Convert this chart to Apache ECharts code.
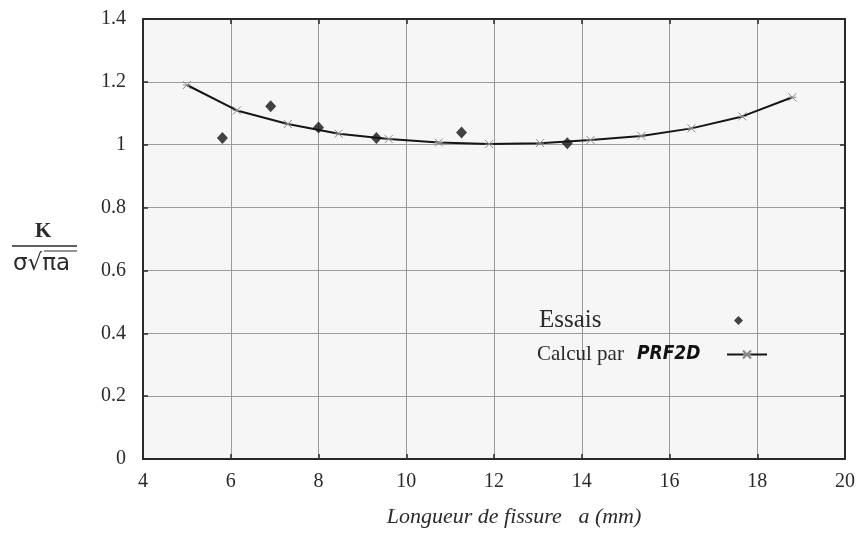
<!DOCTYPE html>
<html>
<head>
<meta charset="utf-8">
<script src="https://cdn.jsdelivr.net/npm/echarts@6/dist/echarts.min.js"></script>
<style>
  html, body { margin: 0; padding: 0; background: #fff; }
  #chart { width: 861px; height: 533px; }
</style>
</head>
<body>
<div id="chart"></div>
<script>
// valeurs
const calcX = [5.0, 6.14, 7.3, 8.46, 9.6, 10.74, 11.89, 13.05, 14.2, 15.36, 16.5, 17.66, 18.8];
const calcY = [1.19, 1.109, 1.066, 1.035, 1.018, 1.007, 1.002, 1.005, 1.015, 1.028, 1.052, 1.09, 1.151];
const essaisX = [5.81, 6.91, 8.0, 9.32, 11.26, 13.67];
const essaisY = [1.021, 1.122, 1.055, 1.021, 1.039, 1.005];
const xTicks = { min: 4, max: 20, interval: 2 };
const yTicks = { min: 0, max: 1.4, interval: 0.2 };

const serif = "'Liberation Serif', 'DejaVu Serif', serif";
const dark = '#2a2a2a';
const star = 'path://M-4,-3L4,3M-4,3L4,-3M-4,0L4,0';

const calcData = calcX.map((x, i) => [x, calcY[i]]);
const essaisData = essaisX.map((x, i) => [x, essaisY[i]]);

const axisCommon = {
  type: 'value',
  axisLine: { show: true, onZero: false, lineStyle: { color: dark, width: 2 } },
  axisTick: { show: true, inside: true, length: 5, lineStyle: { color: dark, width: 1.5 } },
};

const option = {
  animation: false,
  backgroundColor: '#fff',
  grid: {
    left: 143, right: 16, top: 19, bottom: 74,
    show: true, backgroundColor: '#f6f6f6', borderWidth: 0
  },
  legend: [
    {
      data: ['Essais'],
      left: 539, top: 308, padding: 0,
      align: 'right',
      itemWidth: 9, itemHeight: 9,
      formatter: '{a|Essais}',
      textStyle: {
        rich: { a: { fontFamily: serif, fontSize: 25, color: dark, width: 190, lineHeight: 24, align: 'left' } }
      }
    },
    {
      data: ['Calcul par PRF2D'],
      left: 537, top: 344, padding: 0,
      align: 'right',
      itemWidth: 40, itemHeight: 10,
      formatter: '{a|Calcul par }{b|PRF2D}',
      textStyle: {
        rich: {
          a: { fontFamily: serif, fontSize: 21, color: dark, width: 100, lineHeight: 22, align: 'left' },
          b: { fontFamily: "'DejaVu Sans Condensed', 'DejaVu Sans', sans-serif", fontSize: 19,
               fontWeight: 'bold', fontStyle: 'italic', color: '#111', width: 85, lineHeight: 22, align: 'left' }
        }
      }
    }
  ],
  xAxis: [
    Object.assign({}, axisCommon, xTicks, {
      position: 'bottom',
      name: 'Longueur de fissure   a (mm)',
      nameLocation: 'middle',
      nameGap: 47,
      nameTextStyle: { fontFamily: serif, fontSize: 22, fontStyle: 'italic', color: dark, padding: [0, 0, 0, 40] },
      axisLabel: { margin: 13, fontFamily: serif, fontSize: 20, color: dark },
      splitLine: { show: true, lineStyle: { color: '#9a9a9a', width: 1 } }
    }),
    Object.assign({}, axisCommon, xTicks, {
      position: 'top',
      axisLabel: { show: false },
      splitLine: { show: false }
    })
  ],
  yAxis: [
    Object.assign({}, axisCommon, yTicks, {
      position: 'left',
      axisLabel: { margin: 17, fontFamily: serif, fontSize: 20, color: dark },
      splitLine: { show: true, lineStyle: { color: '#9a9a9a', width: 1 } }
    }),
    Object.assign({}, axisCommon, yTicks, {
      position: 'right',
      axisLabel: { show: false },
      splitLine: { show: false }
    })
  ],
  graphic: [
    {
      type: 'text', left: 35, top: 221,
      style: { text: 'K', fontFamily: serif, fontSize: 21, fontWeight: 'bold', fill: dark }
    },
    {
      type: 'line', shape: { x1: 12, y1: 246, x2: 77, y2: 246 },
      style: { stroke: dark, lineWidth: 1.5 }
    },
    {
      type: 'text', left: 13, top: 253,
      style: { text: 'σ√πa', fontFamily: "'DejaVu Sans', sans-serif", fontSize: 23, fill: dark }
    },
    {
      type: 'line', shape: { x1: 44, y1: 251, x2: 77, y2: 251 },
      style: { stroke: dark, lineWidth: 1.2 }
    }
  ],
  series: [
    {
      name: 'Calcul par PRF2D',
      type: 'line',
      data: calcData,
      symbol: star,
      symbolSize: 8,
      itemStyle: { color: '#8a8a8a', borderColor: '#8a8a8a', borderWidth: 1 },
      lineStyle: { color: '#151515', width: 2 },
      z: 2
    },
    {
      name: 'Essais',
      type: 'scatter',
      data: essaisData,
      symbol: 'diamond',
      symbolSize: [11, 12],
      itemStyle: { color: '#151515' },
      z: 3
    }
  ]
};

const chart = echarts.init(document.getElementById('chart'));
chart.setOption(option);
</script>
</body>
</html>
